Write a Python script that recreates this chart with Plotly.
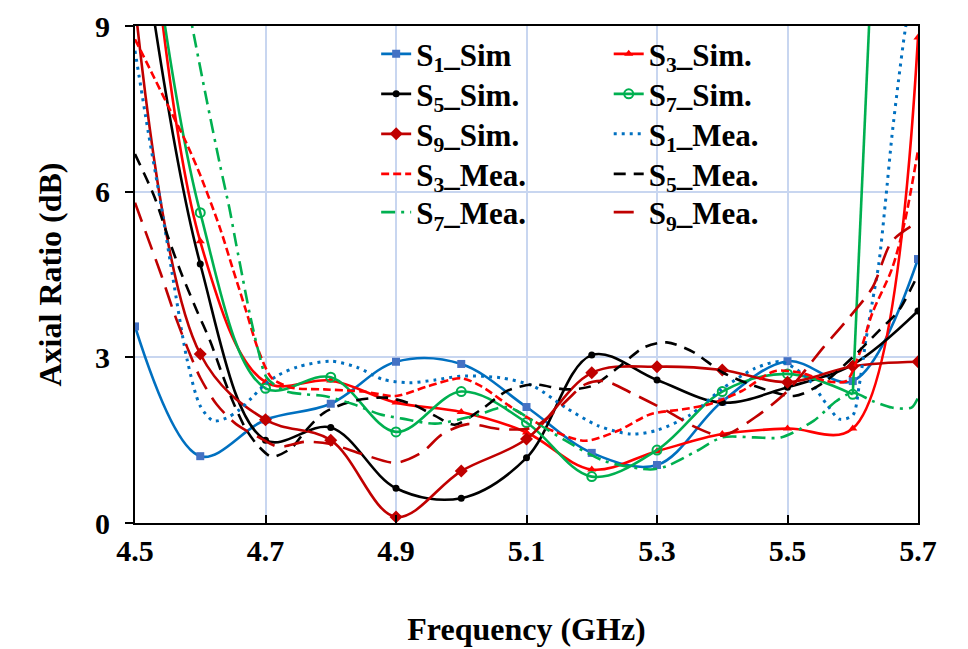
import plotly.graph_objects as go

# ---------------- data ----------------
freq_sim = [4.5, 4.6, 4.7, 4.8, 4.9, 5.0, 5.1, 5.2, 5.3, 5.4, 5.5, 5.6, 5.7]
s1_sim = [3.56, 1.21, 1.87, 2.16, 2.92, 2.88, 2.10, 1.27, 1.05, 2.20, 2.93, 2.57, 4.78]
s3_sim = [14.0, 5.10, 2.55, 2.58, 2.18, 2.01, 1.64, 0.97, 1.30, 1.61, 1.71, 1.71, 8.79]
s5_sim = [11.5, 4.69, 1.50, 1.73, 0.63, 0.45, 1.18, 3.04, 2.59, 2.18, 2.46, 2.87, 3.84]
s7_sim = [13.0, 5.62, 2.44, 2.64, 1.65, 2.38, 1.82, 0.84, 1.32, 2.38, 2.70, 2.33, 29.0]
s9_sim = [9.4, 3.06, 1.87, 1.50, 0.11, 0.94, 1.52, 2.72, 2.83, 2.77, 2.55, 2.84, 2.92]

s1_mea_f = [4.50, 4.52, 4.54, 4.56, 4.58, 4.60, 4.62, 4.64, 4.66, 4.68, 4.70, 4.72, 4.75,
            4.80, 4.84, 4.88, 4.92, 4.96, 5.00, 5.06, 5.11, 5.16, 5.21, 5.26, 5.30, 5.35,
            5.40, 5.45, 5.49, 5.53, 5.56, 5.58, 5.60, 5.61, 5.62, 5.63, 5.64, 5.65, 5.66,
            5.67, 5.68, 5.69]
s1_mea = [8.55, 7.10, 5.75, 4.30, 2.95, 2.12, 1.85, 1.90, 2.05, 2.28, 2.52, 2.68, 2.83,
          2.93, 2.82, 2.60, 2.54, 2.59, 2.66, 2.63, 2.48, 2.09, 1.76, 1.61, 1.68, 1.95,
          2.43, 2.80, 2.92, 2.63, 2.15, 1.88, 1.95, 2.50, 3.30, 4.00, 4.70, 5.80, 7.00,
          8.00, 8.90, 9.60]

s3_mea_f = [4.50, 4.53, 4.555, 4.58, 4.60, 4.63, 4.65, 4.67, 4.69, 4.71, 4.74, 4.79, 4.85,
            4.90, 4.95, 5.00, 5.03, 5.085, 5.14, 5.19, 5.24, 5.29, 5.34, 5.38, 5.43, 5.48,
            5.52, 5.56, 5.59, 5.61, 5.63, 5.66, 5.68, 5.70]
s3_mea = [8.76, 8.05, 7.45, 6.85, 6.30, 5.35, 4.60, 3.85, 3.10, 2.62, 2.45, 2.42, 2.38,
          2.30, 2.48, 2.62, 2.48, 2.03, 1.67, 1.49, 1.67, 1.97, 2.06, 2.15, 2.39, 2.75,
          2.72, 2.57, 2.57, 3.06, 3.80, 4.60, 5.47, 6.75]

s5_mea_f = [4.50, 4.53, 4.55, 4.57, 4.595, 4.615, 4.635, 4.65, 4.67, 4.69, 4.71, 4.74,
            4.76, 4.79, 4.835, 4.885, 4.925, 4.96, 4.99, 5.03, 5.07, 5.11, 5.16, 5.20,
            5.24, 5.28, 5.315, 5.355, 5.40, 5.45, 5.51, 5.555, 5.605, 5.64, 5.67, 5.69, 5.70]
s5_mea = [6.68, 5.90, 5.20, 4.55, 3.84, 3.30, 2.65, 2.20, 1.70, 1.38, 1.20, 1.36,
          1.65, 2.00, 2.21, 2.27, 2.15, 1.94, 1.78, 2.05, 2.39, 2.51, 2.42, 2.48,
          2.81, 3.18, 3.27, 3.10, 2.73, 2.48, 2.30, 2.54, 3.06, 3.48, 3.84, 4.26, 4.50]

s7_mea_f = [4.50, 4.55, 4.59, 4.61, 4.63, 4.645, 4.655, 4.665, 4.676, 4.689, 4.702, 4.73,
            4.76, 4.79, 4.835, 4.875, 4.91, 4.96, 5.02, 5.07, 5.11, 5.16, 5.22, 5.29,
            5.315, 5.36, 5.40, 5.45, 5.49, 5.54, 5.575, 5.60, 5.63, 5.66, 5.69, 5.70]
s7_mea = [14.0, 11.3, 8.85, 7.65, 6.50, 5.68, 5.05, 4.44, 3.78, 3.12, 2.63, 2.39,
          2.33, 2.30, 2.15, 1.97, 1.89, 1.80, 1.94, 2.10, 1.85, 1.49, 1.12, 0.97,
          1.03, 1.30, 1.55, 1.55, 1.55, 1.85, 2.21, 2.36, 2.21, 2.09, 2.09, 2.27]

s9_mea_f = [4.50, 4.52, 4.54, 4.56, 4.58, 4.60, 4.625, 4.655, 4.69, 4.72, 4.76, 4.80,
            4.85, 4.90, 4.94, 4.97, 5.01, 5.06, 5.11, 5.15, 5.19, 5.22, 5.265, 5.315,
            5.36, 5.40, 5.45, 5.50, 5.555, 5.59, 5.63, 5.66, 5.70]
s9_mea = [5.80, 5.15, 4.50, 3.80, 3.18, 2.63, 2.15, 1.79, 1.55, 1.38, 1.47, 1.43,
          1.24, 1.09, 1.28, 1.60, 1.79, 1.70, 1.73, 2.09, 2.51, 2.57, 2.33, 2.03,
          1.73, 1.58, 1.91, 2.39, 3.18, 3.66, 4.26, 5.10, 5.45]

x_ticks = [4.5, 4.7, 4.9, 5.1, 5.3, 5.5, 5.7]
x_tick_text = ["4.5", "4.7", "4.9", "5.1", "5.3", "5.5", "5.7"]
y_ticks = [0, 3, 6, 9]
y_tick_text = ["0", "3", "6", "9"]

# ---------------- styles ----------------
BLUE = "#0070C0"
RED = "#FF0000"
BLACK = "#000000"
GREEN = "#00B050"
DRED = "#C00000"
FONT = "Liberation Serif, Times New Roman, serif"
LW = 2.6

legend_font = dict(family=FONT, size=31, color="black", weight="bold")
COL_X = [0.308, 0.605]
ROW_Y = [0.9976, 0.9171, 0.8366, 0.7561, 0.6791]

fig = go.Figure()
legend_layout = {}
counter = [0]

def new_legend(col, row):
    counter[0] += 1
    key = "legend" if counter[0] == 1 else "legend%d" % counter[0]
    legend_layout[key] = dict(x=COL_X[col], y=ROW_Y[row], xanchor="left", yanchor="top",
                              bgcolor="rgba(0,0,0,0)", font=legend_font, itemwidth=30)
    return key

def sim(name, y, color, symbol, size, col, row, mfill=None, open_=False, n=None):
    lg = new_legend(col, row)
    marker = dict(symbol=symbol, size=size, color=mfill or color,
                  line=dict(color=color, width=2 if open_ else 0))
    xs = freq_sim if n is None else freq_sim[:n]
    ys = y if n is None else y[:n]
    fig.add_trace(go.Scatter(
        x=xs, y=ys, name=name, mode="lines+markers",
        line=dict(color=color, width=LW, shape="spline", smoothing=1.0),
        marker=marker, legend=lg))
    if n is not None:
        # steep final rise drawn as a straight segment (as in the source chart)
        fig.add_trace(go.Scatter(
            x=freq_sim[n - 1:], y=y[n - 1:], mode="lines", showlegend=False,
            line=dict(color=color, width=LW), legend=lg, hoverinfo="skip"))

def mea(name, x, y, color, dash, col, row, width=LW):
    lg = new_legend(col, row)
    fig.add_trace(go.Scatter(
        x=x, y=y, name=name, mode="lines",
        line=dict(color=color, width=width, dash=dash, shape="spline", smoothing=0.8),
        legend=lg))

sim("S<sub>1</sub>_Sim", s1_sim, BLUE, "square", 8, 0, 0, mfill="#4472C4")
sim("S<sub>3</sub>_Sim.", s3_sim, RED, "triangle-up", 8, 1, 0)
sim("S<sub>5</sub>_Sim.", s5_sim, BLACK, "circle", 7, 0, 1)
sim("S<sub>7</sub>_Sim.", s7_sim, GREEN, "circle-open", 9, 1, 1, open_=True, n=12)
sim("S<sub>9</sub>_Sim.", s9_sim, DRED, "diamond", 10, 0, 2)
mea("S<sub>1</sub>_Mea.", s1_mea_f, s1_mea, BLUE, "3px,5px", 1, 2, width=3)
mea("S<sub>3</sub>_Mea.", s3_mea_f, s3_mea, RED, "8px,4px", 0, 3)
mea("S<sub>5</sub>_Mea.", s5_mea_f, s5_mea, BLACK, "12px,8px", 1, 3)
mea("S<sub>7</sub>_Mea.", s7_mea_f, s7_mea, GREEN, "14px,6px,3px,6px", 0, 4)
mea("S<sub>9</sub>_Mea.", s9_mea_f, s9_mea, DRED, "20px,10px", 1, 4)

tick_font = dict(family=FONT, size=30, color="black", weight="bold")
title_font = dict(family=FONT, size=32, color="black", weight="bold")
GRID = "#C8D6F0"

fig.update_layout(
    width=968, height=649,
    margin=dict(l=127, r=58, t=18, b=134),
    paper_bgcolor="white", plot_bgcolor="white",
    showlegend=True,
    xaxis=dict(range=[4.5, 5.7], tickvals=x_ticks, ticktext=x_tick_text,
               ticks="inside", ticklen=8, tickwidth=2, tickcolor="black",
               showline=True, linecolor="black", linewidth=2, mirror=True,
               showgrid=True, gridcolor=GRID, gridwidth=2, zeroline=False,
               tickfont=tick_font, automargin=False,
               title=dict(text="Frequency (GHz)", font=title_font, standoff=52)),
    yaxis=dict(range=[0, 9], tickvals=y_ticks, ticktext=y_tick_text,
               ticks="outside", ticklen=8, tickwidth=2, tickcolor="black",
               showline=True, linecolor="black", linewidth=2, mirror=True,
               showgrid=True, gridcolor=GRID, gridwidth=2, zeroline=False,
               tickfont=tick_font, ticklabelstandoff=9, automargin=False,
               title=dict(text="Axial Ratio (dB)", font=title_font, standoff=24)),
    xaxis2=dict(range=[4.5, 5.7], overlaying="x", anchor="y", side="bottom",
                tickvals=x_ticks, ticks="outside", ticklen=9, tickwidth=2,
                tickcolor="black", showticklabels=False, showgrid=False,
                showline=False, zeroline=False),
    yaxis2=dict(range=[0, 9], overlaying="y", anchor="x", side="left",
                tickvals=y_ticks, ticks="inside", ticklen=8, tickwidth=2,
                tickcolor="black", showticklabels=False, showgrid=False,
                showline=False, zeroline=False),
    **legend_layout,
)

fig.write_html("out.html")
